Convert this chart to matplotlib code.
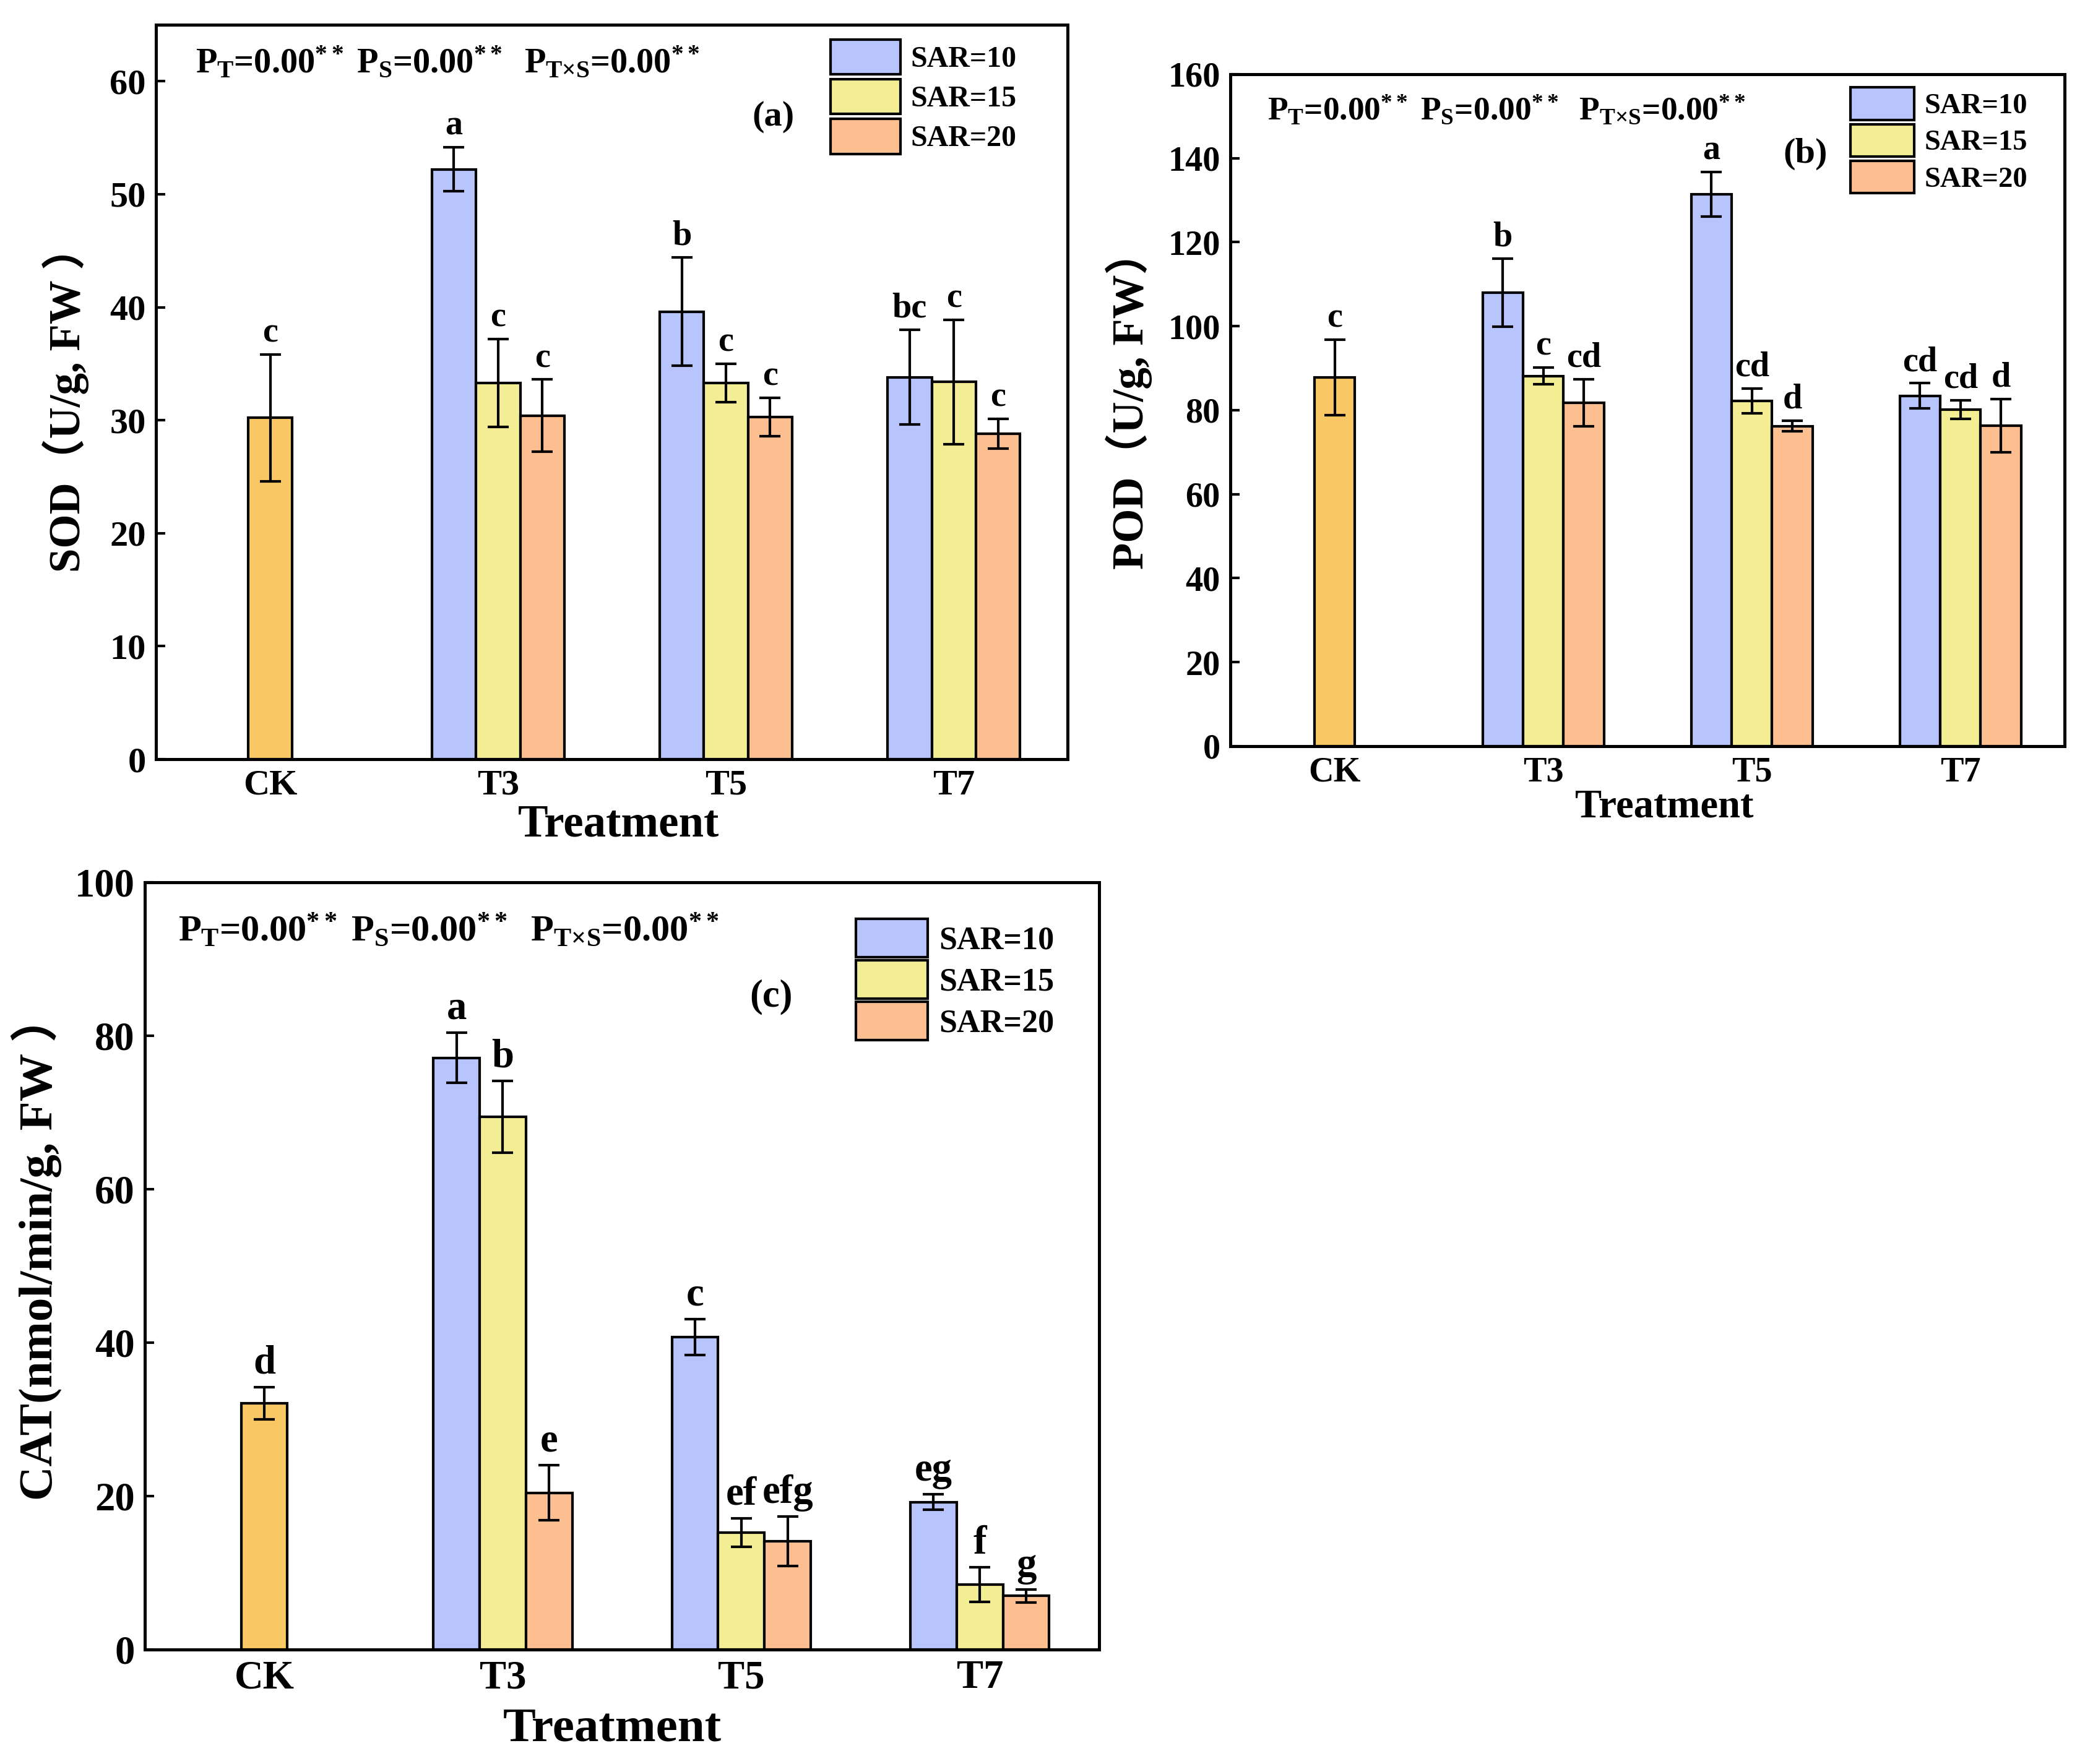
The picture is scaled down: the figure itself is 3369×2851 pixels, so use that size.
import numpy as np
import matplotlib.pyplot as plt

plt.rcParams['font.family'] = ['Liberation Serif', 'Noto Sans CJK SC', 'DejaVu Sans']
plt.rcParams['font.weight'] = 'bold'
plt.rcParams['mathtext.fontset'] = 'custom'
plt.rcParams['mathtext.rm'] = 'Liberation Serif:bold'
plt.rcParams['mathtext.it'] = 'Liberation Serif:bold'
plt.rcParams['mathtext.bf'] = 'Liberation Serif:bold'

groups = ['CK', 'T3', 'T5', 'T7']
series = ['SAR=10', 'SAR=15', 'SAR=20']

# SOD (a)
sod_ck, sod_ck_err, sod_ck_lab = 30.2, 5.6, 'c'
sod = [[52.2, 39.6, 33.8], [33.3, 33.3, 33.4], [30.4, 30.3, 28.8]]
sod_err = [[1.95, 4.8, 4.2], [3.9, 1.7, 5.5], [3.2, 1.7, 1.3]]
sod_lab = [['a', 'b', 'bc'], ['c', 'c', 'c'], ['c', 'c', 'c']]

# POD (b)
pod_ck, pod_ck_err, pod_ck_lab = 87.8, 9.0, 'c'
pod = [[108.0, 131.4, 83.4], [88.1, 82.2, 80.1], [81.7, 76.2, 76.3]]
pod_err = [[8.1, 5.3, 3.0], [2.0, 3.0, 2.2], [5.6, 1.3, 6.3]]
pod_lab = [['b', 'a', 'cd'], ['c', 'cd', 'cd'], ['cd', 'd', 'd']]

# CAT (c)
cat_ck, cat_ck_err, cat_ck_lab = 32.1, 2.1, 'd'
cat = [[77.1, 40.7, 19.2], [69.4, 15.2, 8.45], [20.4, 14.1, 6.95]]
cat_err = [[3.25, 2.35, 1.0], [4.65, 1.85, 2.25], [3.6, 3.2, 0.85]]
cat_lab = [['a', 'c', 'eg'], ['b', 'ef', 'f'], ['e', 'efg', 'g']]

colors = ['#B8C4FC', '#F3EE94', '#FDBF90']
ck_color = '#F9C865'
ptext = r'$P_{T}$=0.00$^{**}$ $P_{S}$=0.00$^{**}$  $P_{T×S}$=0.00$^{**}$'

fig = plt.figure(figsize=(3370 / 300, 2851 / 300), dpi=300)


def panel(rect, ck, ck_err, ck_lab, vals, errs, labs, ylim, yticks, ylabel, ylsize, ylpad, yly,
          tag, tagpos, ppos, legpos, xlpad, xlx, fs):
    # fs: tick, xlabel, letters, ptext, tag, legend, handle width/height/row pitch (pt)
    tick_fs, xl_fs, let_fs, p_fs, tag_fs, leg_fs, hw, hh, pitch = fs
    ax = fig.add_axes(rect)
    x = np.arange(len(groups))
    w = 0.194
    ekw = dict(ecolor='black', elinewidth=1.0, capsize=4, capthick=1.0)
    ax.bar(0, ck, w, color=ck_color, edgecolor='black', linewidth=1.0,
           yerr=ck_err, error_kw=ekw, zorder=2)
    ax.annotate(ck_lab, (0, ck + ck_err), xytext=(0, 2), textcoords='offset points',
                ha='center', va='bottom', fontsize=let_fs, fontweight='bold')
    for i in range(3):
        pos = x[1:] + (i - 1) * w
        ax.bar(pos, vals[i], w, color=colors[i], edgecolor='black', linewidth=1.0,
               yerr=errs[i], error_kw=ekw, label=series[i], zorder=2)
        for p, v, e, l in zip(pos, vals[i], errs[i], labs[i]):
            ax.annotate(l, (p, v + e), xytext=(0, 2), textcoords='offset points',
                        ha='center', va='bottom', fontsize=let_fs, fontweight='bold')
    ax.set_xlim(-0.5, 3.5)
    ax.set_ylim(*ylim)
    ax.set_yticks(yticks)
    ax.set_xticks(x)
    ax.set_xticklabels(groups)
    ax.tick_params(direction='in', length=3.5, width=1.0, labelsize=tick_fs, pad=4)
    for s in ax.spines.values():
        s.set_linewidth(1.2)
    ax.set_xlabel('Treatment', fontsize=xl_fs, fontweight='bold', labelpad=xlpad)
    ax.xaxis.label.set_x(xlx)
    ax.set_ylabel(ylabel, fontsize=ylsize, fontweight='bold', labelpad=ylpad)
    ax.yaxis.label.set_y(yly)
    ax.text(ppos[0], ppos[1], ptext, transform=ax.transAxes, fontsize=p_fs,
            ha='left', va='center')
    ax.text(tagpos[0], tagpos[1], tag, transform=ax.transAxes, fontsize=tag_fs,
            fontweight='bold', ha='center', va='center')
    # legend handle box height = fs * (0.65 * handleheight + 0.245)
    ax.legend(loc='upper left', bbox_to_anchor=legpos, frameon=False, fontsize=leg_fs,
              handlelength=hw / leg_fs, handleheight=(hh / leg_fs - 0.245) / 0.65,
              labelspacing=(pitch - hh) / leg_fs, handletextpad=0.35,
              borderpad=0, borderaxespad=0)
    return ax


panel([0.0749, 0.5696, 0.4371, 0.4164], sod_ck, sod_ck_err, sod_ck_lab, sod, sod_err, sod_lab,
      (0, 65), np.arange(0, 61, 10), 'SOD（U/g, FW ）', 17, 8, 0.49, '(a)', (0.677, 0.874),
      (0.0435, 0.948), (0.740, 0.980), 1, 0.507,
      (14, 17.5, 13.5, 13.5, 14, 11.5, 26.9, 13.6, 15.4))
panel([0.590, 0.577, 0.400, 0.381], pod_ck, pod_ck_err, pod_ck_lab, pod, pod_err, pod_lab,
      (0, 160), np.arange(0, 161, 20), 'POD（U/g, FW）', 17, 6, 0.515, '(b)', (0.689, 0.881),
      (0.044, 0.946), (0.743, 0.980), 0, 0.52,
      (13.5, 15.5, 13.5, 12.8, 14, 11.2, 24.7, 12.6, 14.2))
panel([0.0695, 0.065, 0.4575, 0.435], cat_ck, cat_ck_err, cat_ck_lab, cat, cat_err, cat_lab,
      (0, 100), np.arange(0, 101, 20), 'CAT(nmol/min/g, FW ）', 18.5, 5, 0.524, '(c)', (0.656, 0.850),
      (0.035, 0.936), (0.745, 0.952), 4, 0.49,
      (15.5, 19, 15.5, 14.5, 15, 12.5, 27.8, 14.8, 16.1))

fig.savefig('out.png', dpi=300)
